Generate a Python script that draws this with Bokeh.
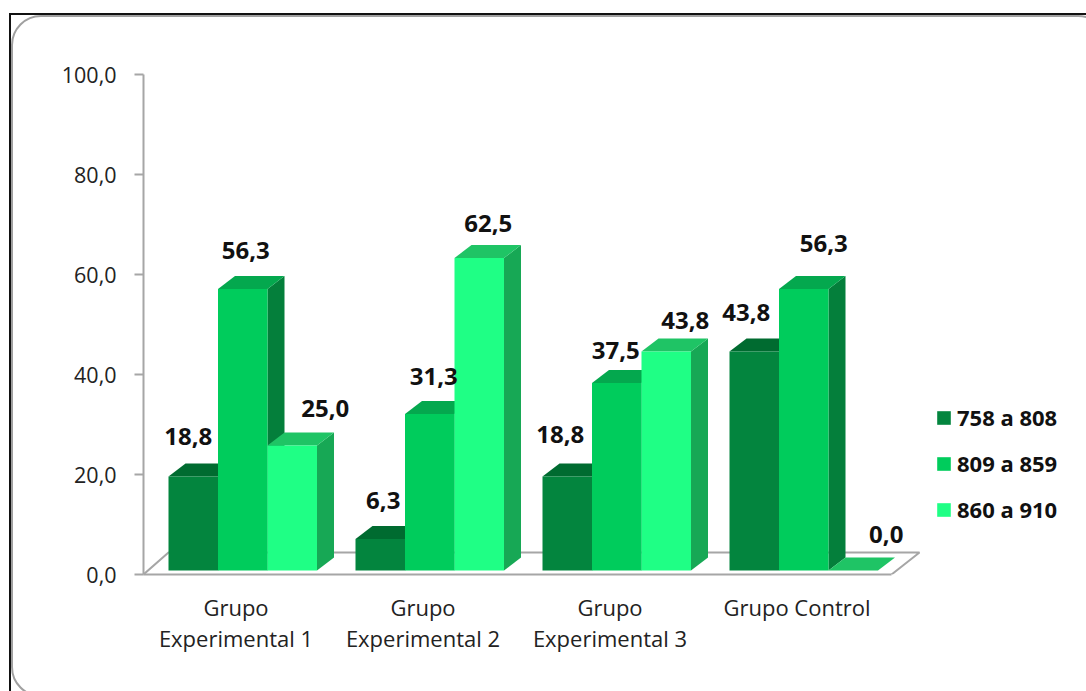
from bokeh.core.properties import value
from bokeh.embed import file_html
from bokeh.models import (ColumnDataSource, FixedTicker, InlineStyleSheet, Label, Legend,
                          LegendItem, LinearAxis, Range1d)
from bokeh.plotting import figure
from bokeh.resources import INLINE

# Percentage of each group per score band
groups_line1 = ["Grupo", "Grupo", "Grupo", "Grupo Control"]
groups_line2 = ["Experimental 1", "Experimental 2", "Experimental 3", ""]
bands = ["758 a 808", "809 a 859", "860 a 910"]
band_758_808 = [18.8, 6.3, 18.8, 43.8]
band_809_859 = [56.3, 31.3, 37.5, 56.3]
band_860_910 = [25.0, 62.5, 43.8, 0.0]
y_ticks = [0, 20, 40, 60, 80, 100]

series = [band_758_808, band_809_859, band_860_910]
front_colors = ["#03853E", "#00CC5C", "#1FFF85"]
top_colors = ["#006B30", "#04A84E", "#1FC465"]
side_colors = ["#00602C", "#047F3B", "#17A855"]

# Label nudges in pixels, per band and group
label_dx = [[-5, 3, -7, -8], [3, 4, -1, 20], [33, 9, 19, 33]]
label_dy = [[40, 39, 42, 39], [39, 38, 33, 46], [37, 35, 31, 36]]

WIDTH, HEIGHT = 1086, 691
FRAME_LEFT, FRAME_TOP, FRAME_BOTTOM = 143, 20, 574
PX_PER_GROUP = 187.0
PX_PER_UNIT = 5.0
FIRST_GROUP_PX = 235.5

def gx(px):
    return px / PX_PER_GROUP

def vy(px):
    return px / PX_PER_UNIT

BAR_W = gx(49.5)
BAR_START = gx(-67.5)
DEPTH_X = gx(17)
DEPTH_Y = vy(13)
LIFT = vy(4)

# Outer chart area: dark top and left edge plus the rounded grey inner edge
chart_area_css = InlineStyleSheet(css="""
:host { overflow: hidden; }
:host::before {
  content: ""; position: absolute; left: 9px; top: 13px; right: 0; bottom: 0;
  border-left: 2px solid #111111; border-top: 2px solid #111111;
  pointer-events: none; z-index: 5;
}
:host::after {
  content: ""; position: absolute; left: 11px; top: 15px; width: 1093px; height: 678px;
  border: 2px solid #A0A0A0; border-radius: 30px;
  pointer-events: none; z-index: 5;
}
""")

p = figure(width=WIDTH, height=HEIGHT, output_backend="svg", toolbar_location=None,
           x_range=Range1d(gx(FRAME_LEFT - FIRST_GROUP_PX), gx(WIDTH - FIRST_GROUP_PX)),
           y_range=Range1d(0, vy(FRAME_BOTTOM - FRAME_TOP)),
           min_border_left=FRAME_LEFT, min_border_right=0,
           min_border_top=FRAME_TOP, min_border_bottom=HEIGHT - FRAME_BOTTOM,
           x_axis_type=None, y_axis_type=None, stylesheets=[chart_area_css])
p.grid.visible = False
p.outline_line_color = None

AXIS_GREY = "#A6A6A6"

# Value axis
y_axis = LinearAxis(ticker=FixedTicker(ticks=y_ticks),
                    major_label_overrides={t: f"{t:.1f}".replace(".", ",") for t in y_ticks},
                    bounds=(0, 100), axis_line_color=AXIS_GREY, axis_line_width=2,
                    major_tick_line_color=AXIS_GREY, major_tick_line_width=2,
                    major_tick_in=0, major_tick_out=9, minor_tick_line_color=None,
                    major_label_text_font="Open Sans", major_label_text_font_size="21.5px",
                    major_label_text_color="#222222", major_label_standoff=18)
p.add_layout(y_axis, "left")

# Category labels sit on two stacked axes so both rows keep their spacing
group_ticks = list(range(len(groups_line1)))
right_floor = gx(891 - FIRST_GROUP_PX)
axis_row1 = LinearAxis(ticker=FixedTicker(ticks=group_ticks),
                       major_label_overrides=dict(zip(group_ticks, groups_line1)),
                       bounds=(gx(FRAME_LEFT - FIRST_GROUP_PX), right_floor),
                       axis_line_color=AXIS_GREY, axis_line_width=2,
                       major_tick_line_color=None, minor_tick_line_color=None,
                       major_label_text_font="Open Sans", major_label_text_font_size="22px",
                       major_label_text_color="#222222", major_label_standoff=11)
axis_row2 = LinearAxis(ticker=FixedTicker(ticks=group_ticks),
                       major_label_overrides=dict(zip(group_ticks, groups_line2)),
                       axis_line_color=None, major_tick_line_color=None,
                       minor_tick_line_color=None,
                       major_label_text_font="Open Sans", major_label_text_font_size="22px",
                       major_label_text_color="#222222", major_label_standoff=-8)
p.add_layout(axis_row1, "below")
p.add_layout(axis_row2, "below")

# Chart floor seen in perspective
back_y = vy(FRAME_BOTTOM - 552)
floor_right = gx(919 - FIRST_GROUP_PX)
p.multi_line(xs=[[gx(FRAME_LEFT - FIRST_GROUP_PX), gx(168 - FIRST_GROUP_PX), floor_right, right_floor]],
             ys=[[0, back_y, back_y, 0]], line_color=AXIS_GREY, line_width=2)

# Bars: side and top faces first, then the front, left to right inside each group
legend_items = []
for g in group_ticks:
    for b, vals in enumerate(series):
        v = vals[g]
        x0 = g + BAR_START + b * BAR_W
        x1 = x0 + BAR_W
        y0 = LIFT
        y1 = LIFT + v
        if v > 0:
            p.patch([x1, x1 + DEPTH_X, x1 + DEPTH_X, x1],
                    [y0, y0 + DEPTH_Y, y1 + DEPTH_Y, y1], color=side_colors[b], line_width=0)
        p.patch([x0, x1, x1 + DEPTH_X, x0 + DEPTH_X],
                [y1, y1, y1 + DEPTH_Y, y1 + DEPTH_Y], color=top_colors[b], line_width=0)
        r = p.quad(left=x0, right=x1, bottom=y0, top=y1, color=front_colors[b], line_width=0)
        if g == 0:
            legend_items.append(LegendItem(label=bands[b], renderers=[r]))

# Value labels above each bar
lab_x, lab_y, lab_text, lab_dx, lab_dy = [], [], [], [], []
for b, vals in enumerate(series):
    for g, v in enumerate(vals):
        lab_x.append(g + BAR_START + (b + 0.5) * BAR_W)
        lab_y.append(LIFT + v)
        lab_text.append(f"{v:.1f}".replace(".", ","))
        lab_dx.append(label_dx[b][g])
        lab_dy.append(-label_dy[b][g])
p.text(x="x", y="y", text="t", x_offset="dx", y_offset="dy",
       source=ColumnDataSource(dict(x=lab_x, y=lab_y, t=lab_text, dx=lab_dx, dy=lab_dy)),
       text_font=value("Open Sans"), text_font_style="bold", text_font_size="24px",
       text_color="#111111", text_align="center", text_baseline="middle")

legend = Legend(items=legend_items, location=(792, 50), orientation="vertical",
                background_fill_alpha=0, border_line_color=None, margin=0, padding=0,
                glyph_width=17, glyph_height=17, spacing=16, label_height=30,
                label_standoff=5, label_text_font="Open Sans", label_text_font_style="bold",
                label_text_font_size="22px", label_text_color="#111111")
p.add_layout(legend)

p.add_layout(Label(x=39, y=326, x_units="canvas", y_units="canvas", text="%",
                   text_font="Open Sans", text_font_style="bold", text_font_size="22px",
                   text_color="#111111", text_align="center", text_baseline="middle"))

open("out.html", "w").write(file_html(p, INLINE))
